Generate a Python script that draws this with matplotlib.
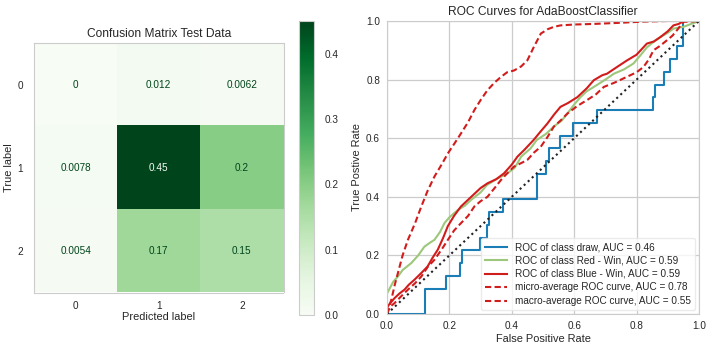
import numpy as np
import matplotlib
matplotlib.use("Agg")
from matplotlib import pyplot as plt

plt.rcParams['font.family'] = ['Liberation Sans', 'DejaVu Sans']

# confusion matrix (normalized over all)
cm_labels = ['0', '1', '2']
cm_values = np.array([[0.0, 0.012, 0.0062],
                      [0.0078, 0.45, 0.2],
                      [0.0054, 0.17, 0.15]])
cm_text = [['0', '0.012', '0.0062'],
           ['0.0078', '0.45', '0.2'],
           ['0.0054', '0.17', '0.15']]

# ROC curves
draw_fpr = [0, 0.122, 0.122, 0.19, 0.19, 0.234, 0.234, 0.239, 0.239, 0.299, 0.299, 0.322, 0.322,
            0.328, 0.328, 0.373, 0.373, 0.48, 0.48, 0.51, 0.51, 0.52, 0.52, 0.556, 0.556, 0.596,
            0.596, 0.673, 0.673, 0.854, 0.854, 0.86, 0.86, 0.889, 0.889, 0.907, 0.907, 0.929,
            0.929, 0.948, 0.948, 1.0]
draw_tpr = [0, 0, 0.087, 0.087, 0.13, 0.13, 0.174, 0.174, 0.217, 0.217, 0.261, 0.261, 0.304,
            0.304, 0.348, 0.348, 0.391, 0.391, 0.478, 0.478, 0.522, 0.522, 0.565, 0.565, 0.609,
            0.609, 0.652, 0.652, 0.696, 0.696, 0.739, 0.739, 0.783, 0.783, 0.826, 0.826, 0.87,
            0.87, 0.913, 0.913, 1.0, 1.0]

red_fpr = [0, 0.005, 0.02, 0.035, 0.05, 0.078, 0.1, 0.12, 0.14, 0.152, 0.17, 0.184, 0.2, 0.227,
           0.25, 0.27, 0.3, 0.32, 0.35, 0.386, 0.41, 0.43, 0.46, 0.48, 0.51, 0.535, 0.56, 0.578,
           0.6, 0.62, 0.64, 0.663, 0.7, 0.727, 0.76, 0.79, 0.81, 0.833, 0.85, 0.876, 0.9, 0.918,
           0.95, 0.975, 1.0]
red_tpr = [0.07, 0.08, 0.11, 0.128, 0.15, 0.174, 0.2, 0.23, 0.245, 0.253, 0.28, 0.31, 0.33, 0.355,
           0.37, 0.39, 0.415, 0.44, 0.46, 0.48, 0.5, 0.537, 0.565, 0.594, 0.615, 0.64, 0.66, 0.684,
           0.715, 0.74, 0.76, 0.775, 0.8, 0.82, 0.835, 0.855, 0.88, 0.91, 0.925, 0.945, 0.96, 0.974,
           0.98, 0.99, 1.0]

blue_fpr = [0, 0.005, 0.024, 0.04, 0.056, 0.07, 0.088, 0.11, 0.13, 0.145, 0.163, 0.18, 0.195,
            0.215, 0.237, 0.26, 0.28, 0.3, 0.322, 0.35, 0.375, 0.4, 0.418, 0.44, 0.47, 0.49, 0.514,
            0.535, 0.556, 0.58, 0.61, 0.64, 0.663, 0.69, 0.705, 0.74, 0.77, 0.8, 0.833, 0.855,
            0.876, 0.9, 0.918, 0.935, 0.95, 1.0]
blue_tpr = [0.02, 0.03, 0.054, 0.07, 0.083, 0.1, 0.117, 0.14, 0.162, 0.19, 0.22, 0.26, 0.3, 0.335,
            0.367, 0.39, 0.41, 0.43, 0.446, 0.46, 0.48, 0.51, 0.537, 0.56, 0.594, 0.62, 0.65, 0.68,
            0.707, 0.72, 0.74, 0.77, 0.798, 0.815, 0.82, 0.845, 0.866, 0.885, 0.923, 0.93, 0.945,
            0.965, 0.985, 0.99, 1.0, 1.0]

micro_fpr = [0, 0.005, 0.014, 0.025, 0.035, 0.05, 0.067, 0.09, 0.11, 0.13, 0.152, 0.175, 0.195,
             0.215, 0.237, 0.26, 0.28, 0.3, 0.322, 0.345, 0.365, 0.385, 0.407, 0.43, 0.45, 0.47,
             0.493, 0.515, 0.535, 0.556, 0.6, 0.663, 0.75, 0.822, 0.9, 1.0]
micro_tpr = [0, 0.02, 0.049, 0.1, 0.14, 0.2, 0.253, 0.31, 0.367, 0.42, 0.469, 0.51, 0.548, 0.58,
             0.616, 0.655, 0.696, 0.73, 0.764, 0.79, 0.809, 0.825, 0.831, 0.845, 0.866, 0.91,
             0.957, 0.972, 0.98, 0.985, 0.988, 0.99, 0.994, 0.998, 1.0, 1.0]

macro_fpr = [0, 0.01, 0.024, 0.045, 0.067, 0.09, 0.11, 0.13, 0.152, 0.175, 0.195, 0.215, 0.237,
             0.26, 0.28, 0.3, 0.322, 0.345, 0.365, 0.385, 0.407, 0.43, 0.45, 0.47, 0.493, 0.515,
             0.535, 0.556, 0.578, 0.61, 0.641, 0.67, 0.695, 0.73, 0.77, 0.8, 0.822, 0.84, 0.854,
             0.875, 0.897, 0.915, 0.929, 0.95, 1.0]
macro_tpr = [0, 0.025, 0.037, 0.06, 0.083, 0.105, 0.128, 0.16, 0.185, 0.22, 0.253, 0.285, 0.31,
             0.335, 0.367, 0.385, 0.4, 0.43, 0.457, 0.48, 0.503, 0.515, 0.526, 0.55, 0.571, 0.605,
             0.64, 0.66, 0.684, 0.71, 0.73, 0.75, 0.775, 0.79, 0.81, 0.825, 0.843, 0.87, 0.9,
             0.915, 0.934, 0.95, 0.968, 0.997, 1.0]

roc_names = ['ROC of class draw, AUC = 0.46',
             'ROC of class Red - Win, AUC = 0.59',
             'ROC of class Blue - Win, AUC = 0.59',
             'micro-average ROC curve, AUC = 0.78',
             'macro-average ROC curve, AUC = 0.55']

text_c = '#262626'
light = '#cccccc'

fig = plt.figure(figsize=(7.12, 3.52), dpi=100)

# --- confusion matrix ---
ax1 = fig.add_axes([34 / 712, 1 - 292.5 / 352, 249.5 / 712, 249.5 / 352])
cmap = plt.get_cmap('Greens')
im = ax1.imshow(cm_values, cmap=cmap, vmin=0, vmax=cm_values.max())
thresh = cm_values.max() / 2
for i in range(3):
    for j in range(3):
        c = cmap(0.0) if cm_values[i, j] > thresh else cmap(1.0)
        ax1.text(j, i, cm_text[i][j], ha='center', va='center', color=c, fontsize=7.2)
ax1.set_xticks(range(3))
ax1.set_yticks(range(3))
ax1.set_xticklabels(cm_labels)
ax1.set_yticklabels(cm_labels)
ax1.tick_params(axis='x', length=0, labelsize=7.2, labelcolor=text_c, pad=6)
ax1.tick_params(axis='y', length=0, labelsize=7.2, labelcolor=text_c, pad=8)
ax1.set_xlabel('Predicted label', fontsize=7.9, color=text_c, labelpad=1)
ax1.set_ylabel('True label', fontsize=7.9, color=text_c, labelpad=2)
ax1.set_title('Confusion Matrix Test Data', fontsize=8.64, color=text_c, pad=4)
ax1.grid(False)
for s in ax1.spines.values():
    s.set_color(light)

cax = fig.add_axes([298.5 / 712, 1 - 315 / 352, 15 / 712, 294 / 352])
cb = fig.colorbar(im, cax=cax)
cb.set_ticks([0.0, 0.1, 0.2, 0.3, 0.4])
cb.ax.tick_params(length=0, labelsize=7.2, labelcolor=text_c, pad=8)
cb.outline.set_edgecolor(light)

# --- ROC curves ---
ax2 = fig.add_axes([387 / 712, 1 - 314 / 352, 312 / 712, 293 / 352])
ax2.set_axisbelow(True)
ax2.grid(True, color=light, linewidth=0.9)
ax2.plot(draw_fpr, draw_tpr, color='#1a7db5', lw=1.5, label=roc_names[0])
ax2.plot(red_fpr, red_tpr, color='#9dc77a', lw=1.5, label=roc_names[1])
ax2.plot(blue_fpr, blue_tpr, color='#d11c1c', lw=1.5, label=roc_names[2])
ax2.plot(micro_fpr, micro_tpr, color='#d11c1c', lw=1.5, ls='--', dashes=(3, 1.6), label=roc_names[3])
ax2.plot(macro_fpr, macro_tpr, color='#d11c1c', lw=1.5, ls='--', dashes=(3, 1.6), label=roc_names[4])
ax2.plot([0, 1], [0, 1], color='#222222', ls=':', lw=1.5)
ax2.set_xlim(0, 1)
ax2.set_ylim(0, 1)
ax2.set_xticks([0, 0.2, 0.4, 0.6, 0.8, 1.0])
ax2.set_yticks([0, 0.2, 0.4, 0.6, 0.8, 1.0])
ax2.set_xticklabels(['0.0', '0.2', '0.4', '0.6', '0.8', '1.0'])
ax2.set_yticklabels(['0.0', '0.2', '0.4', '0.6', '0.8', '1.0'])
ax2.tick_params(length=0, labelsize=7.2, labelcolor=text_c, pad=5)
ax2.set_xlabel('False Positive Rate', fontsize=7.9, color=text_c, labelpad=2)
ax2.set_ylabel('True Postive Rate', fontsize=7.9, color=text_c, labelpad=3)
ax2.set_title('ROC Curves for AdaBoostClassifier', fontsize=8.64, color=text_c, pad=4)
for s in ax2.spines.values():
    s.set_color(light)
leg = ax2.legend(loc='lower right', fontsize=7.2, frameon=True, borderaxespad=0.4,
                 handlelength=2.2, labelspacing=0.35)
leg.get_frame().set_edgecolor('#e6e6e6')
for t in leg.get_texts():
    t.set_color(text_c)

fig.savefig('out.png', dpi=100, facecolor='white')
